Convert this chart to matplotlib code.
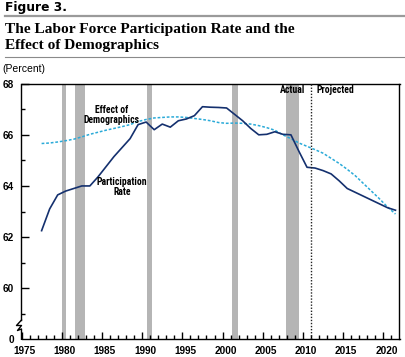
import matplotlib
matplotlib.use("Agg")
import matplotlib.pyplot as plt
from matplotlib.lines import Line2D
from matplotlib.transforms import ScaledTranslation
import numpy as np

# ---- data ----
years = list(range(1977, 2022))
participation = [62.25, 63.1, 63.65, 63.8, 63.9, 64.0, 64.0, 64.35, 64.75, 65.15,
                 65.5, 65.85, 66.4, 66.5, 66.2, 66.42, 66.3, 66.55, 66.62, 66.75,
                 67.1, 67.08, 67.07, 67.05, 66.8, 66.55, 66.25, 66.0, 66.02, 66.12,
                 66.02, 66.0, 65.35, 64.73, 64.7, 64.6, 64.47, 64.2, 63.9, 63.75,
                 63.6, 63.45, 63.3, 63.15, 63.05]
demographics = [65.66, 65.68, 65.72, 65.77, 65.83, 65.92, 66.02, 66.1, 66.18, 66.25,
                66.32, 66.4, 66.52, 66.6, 66.66, 66.68, 66.7, 66.7, 66.68, 66.64,
                66.6, 66.55, 66.48, 66.45, 66.46, 66.45, 66.42, 66.36, 66.28, 66.18,
                66.0, 65.85, 65.68, 65.55, 65.42, 65.28, 65.08, 64.88, 64.65, 64.4,
                64.1, 63.8, 63.5, 63.18, 62.9]
recessions = [(1980.0, 1980.5), (1981.6, 1982.9), (1990.6, 1991.2),
              (2001.2, 2001.9), (2007.9, 2009.45)]
projection_start = 2011.0
xticks_major = list(range(1975, 2021, 5))
yticks_major = [58, 60, 62, 64, 66, 68]
ytick_labels = ["0", "60", "62", "64", "66", "68"]

W, H = 406, 357
fig = plt.figure(figsize=(W / 100, H / 100), dpi=100)
fig.patch.set_facecolor("white")

def fx(px):
    return px / W

def fy(py):
    return 1 - py / H

ax = fig.add_axes([fx(21.5), fy(339.3), fx(399.5) - fx(21.5), fy(83.7) - fy(339.3)])

x_mid = np.array(years) + 0.5
for a, b in recessions:
    ax.axvspan(a, b, color="#b5b5b5", lw=0, zorder=1)

ax.plot(x_mid, demographics, color="#2aaad8", lw=1.1, dashes=(1.8, 1.2), zorder=3)
ax.plot(x_mid, participation, color="#14306e", lw=1.2, zorder=4)
ax.axvline(projection_start, color="#222222", lw=1.0, ls=(0, (1, 1.2)), zorder=5)

ax.set_xlim(1975, 2022)
ax.set_ylim(58, 68)

tickfont = dict(family="Liberation Sans", weight="bold", size=7.2)
ax.set_xticks(xticks_major)
ax.set_xticks(range(1975, 2022), minor=True)
ax.set_xticklabels([str(y) for y in xticks_major], fontdict=tickfont)
ax.set_yticks(yticks_major)
ax.set_yticks([59, 61, 63, 65, 67], minor=True)
ax.set_yticklabels(ytick_labels, fontdict=tickfont)
ax.tick_params(axis="both", which="major", direction="in", length=5, width=1.0, pad=5)
ax.tick_params(axis="both", which="minor", direction="in", length=3, width=1.0)
ax.tick_params(axis="y", which="major", length=5.5, pad=5.5)
ax.yaxis.get_major_ticks()[0].tick1line.set_visible(False)
for lbl in ax.get_xticklabels():
    lbl.set_transform(lbl.get_transform() + ScaledTranslation(3 / 100, 0, fig.dpi_scale_trans))

for s in ax.spines.values():
    s.set_linewidth(1.0)
    s.set_color("black")
ax.spines["left"].set_bounds(58.75, 68)

# axis break zigzag on the left spine
zz_x = [21.5, 16.5, 21.5, 17.5, 21.5, 21.5]
zz_y = [320.0, 325.5, 325.5, 330.5, 329.0, 339.3]
fig.add_artist(Line2D([fx(v) for v in zz_x], [fy(v) for v in zz_y],
                      transform=fig.transFigure, color="black", lw=1.0))

annfont = dict(family=["Liberation Sans Narrow", "Roboto Condensed", "DejaVu Sans Condensed",
                       "Liberation Sans"], weight="bold", size=7.0)
ax.text(1986.2, 66.77, "Effect of\nDemographics", ha="center", va="center",
        linespacing=1.0, zorder=6, **annfont)
ax.text(1987.5, 63.97, "Participation\nRate", ha="center", va="center",
        linespacing=1.0, zorder=6, **annfont)
ax.text(2010.3, 67.75, "Actual", ha="right", va="center", zorder=6, **annfont)
ax.text(2011.7, 67.75, "Projected", ha="left", va="center", zorder=6, **annfont)

# header
fig.text(fx(5), fy(7.5), "Figure 3.", ha="left", va="center",
         family="DejaVu Sans", weight="heavy", size=8.8)
fig.add_artist(Line2D([fx(5), fx(406)], [fy(16), fy(16)], transform=fig.transFigure,
                      color="#9a9a9a", lw=1.6))
fig.text(fx(5), fy(37.5), "The Labor Force Participation Rate and the\nEffect of Demographics",
         ha="left", va="center", family="Liberation Serif", weight="bold", size=11.1,
         linespacing=1.25)
fig.add_artist(Line2D([fx(5), fx(406)], [fy(57.3), fy(57.3)], transform=fig.transFigure,
                      color="#8a8a8a", lw=0.8))
fig.text(fx(2.7), fy(69), "(Percent)", ha="left", va="center",
         family="Liberation Sans", size=7.5)

fig.savefig("out.png", dpi=100, facecolor="white")
